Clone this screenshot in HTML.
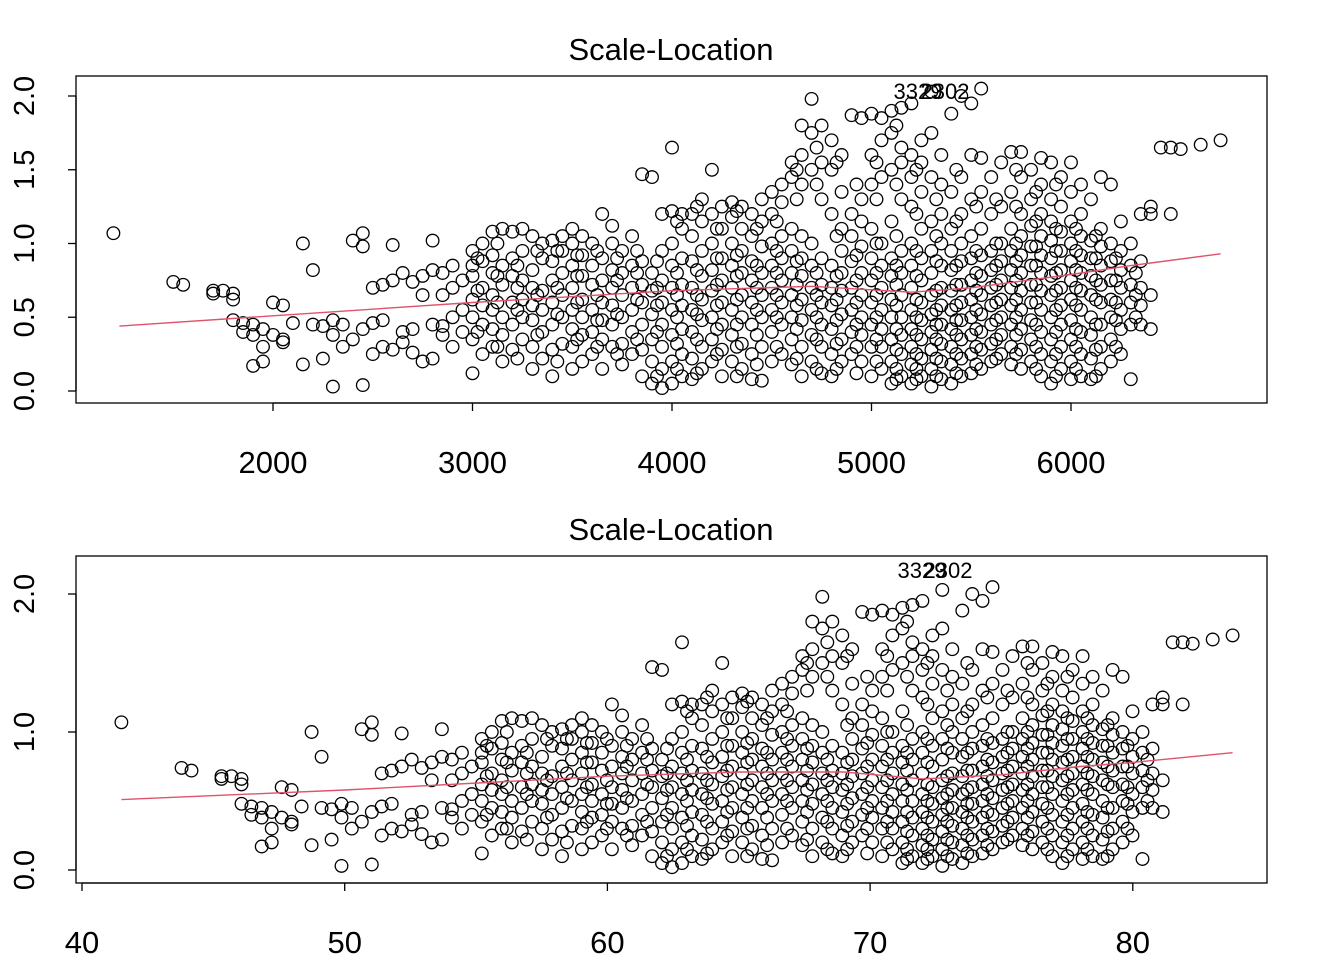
<!DOCTYPE html>
<html><head><meta charset="utf-8"><style>
html,body{margin:0;padding:0;background:#fff}
svg{display:block;font-family:"Liberation Sans",Arial,sans-serif}
</style></head><body>
<svg id="chart" width="1344" height="960" viewBox="0 0 1344 960"></svg>
<script>
// ---------- data ----------
const p1x=[1200,1500,1550,1700,1750,1800,1850,1900,1950,2000,2050,2100,2150,2200,2250,2300,2350,2400,2450,2500,2550,2600,2650,2700,2750,2800,2850,2900,2950,
3000,3050,3100,3150,3200,3250,3300,3350,3400,3450,3500,3550,3600,3650,3700,3750,3800,3850,3900,3950,4000,4050,4100,4150,4200,4250,4300,4350,4400,4450,4500,4550,4600,4650,4700,4750,4800,4850,4900,4950,5000,5050,5100,5150,5200,5250,5300,5350,5400,5450,5500,5550,5600,5650,5700,5750,5800,5850,5900,5950,6000,6050,6100,6150,6200,6250,6300,6350,6400,6450,6500,6550,6650,6750];
const p2x=[41.5,43.79,44.17,45.31,45.69,46.07,46.45,46.84,47.22,47.60,47.98,48.36,48.74,49.12,49.50,49.88,50.27,50.65,51.03,51.41,51.79,52.17,52.55,52.93,53.31,53.70,54.08,54.46,54.84,
55.22,55.60,55.98,56.36,56.74,57.13,57.51,57.89,58.27,58.65,59.03,59.41,59.79,60.17,60.56,60.94,61.32,61.70,62.08,62.46,62.84,63.22,63.60,63.99,64.37,64.75,65.13,65.51,65.89,66.27,66.65,67.03,67.42,67.80,68.18,68.56,68.94,69.32,69.70,70.08,70.46,70.85,71.23,71.61,71.99,72.37,72.75,73.13,73.51,73.89,74.28,74.66,75.04,75.42,75.80,76.18,76.56,76.94,77.32,77.71,78.09,78.47,78.85,79.23,79.61,79.99,80.37,80.75,81.14,81.52,81.90,82.28,83.04,83.80];
const yCols=[[1.07],[.74],[.72],[.66,.68],[.68],[.48,.66,.62],[.46,.4],[.17,.45,.38],[.3,.2,.42],[.6,.38],[.58,.33,.35],[.46],[1.0,.18],[.82,.45],[.22,.44],[.03,.38,.48],[.45,.3],[1.02,.35],[1.07,.98,.04,.42],[.7,.46,.25],[.72,.3,.48],[.99,.75,.28],[.8,.4,.33],[.74,.42,.26],[.78,.2,.65],[1.02,.82,.22,.45],[.8,.44,.65,.38],[.85,.5,.3,.7],[.55,.75,.4],
[.12,.35,.5,.62,.78,.85,.95],[.25,.45,.58,.7,.88,1.0],[.3,.42,.55,.65,.8,.92,1.08],[.2,.38,.5,.72,.85,1.1],[.28,.45,.6,.78,.9,1.08],[.35,.5,.62,.75,.95,1.1],[.15,.3,.48,.58,.7,.82,1.05],[.22,.4,.55,.68,.9,1.0],[.1,.28,.45,.6,.75,.88,1.02],[.32,.5,.65,.8,.95,1.05],[.15,.3,.42,.55,.7,.85,1.0,1.1],[.2,.38,.5,.62,.78,.92,1.05],[.25,.4,.55,.72,.85,1.0],[.15,.35,.48,.6,.75,.9,1.2],[.3,.45,.58,.7,.82,1.0,1.12],[.18,.32,.5,.65,.8,.95],[.25,.4,.55,.7,.85,1.05],[.1,.28,.45,.6,.72,.88,1.47],[.05,.2,.35,.52,.68,.8,1.45],[.02,.15,.3,.45,.6,.75,.95,1.2],[.05,.2,.38,.55,.7,.85,1.0,1.22,1.65],[.1,.25,.42,.58,.72,.9,1.1,1.2],[.08,.22,.4,.55,.7,.88,1.05,1.2],[.15,.3,.48,.62,.78,.95,1.15,1.3],[.2,.35,.5,.68,.82,1.0,1.2,1.5],[.1,.28,.45,.6,.75,.9,1.1,1.25],[.2,.38,.55,.7,.85,1.0,1.18,1.28],[.15,.32,.5,.65,.8,.95,1.1,1.25],[.08,.25,.45,.6,.75,.88,1.05,1.2],[.07,.3,.5,.65,.8,.98,1.15,1.3],[.2,.4,.55,.7,.85,1.0,1.2,1.35],[.25,.45,.6,.75,.9,1.05,1.28,1.4],[.18,.35,.5,.65,.8,.95,1.1,1.45,1.55],[.1,.3,.48,.62,.78,.9,1.05,1.4,1.6,1.8],[.2,.38,.55,.7,.85,1.0,1.5,1.75,1.98],[.12,.3,.45,.6,.72,.9,1.3,1.55,1.8],[.1,.25,.42,.58,.7,.85,1.2,1.5,1.7],[.2,.35,.52,.68,.8,.95,1.1,1.35,1.6],[.25,.4,.55,.7,.88,1.05,1.2,1.87],[.2,.38,.5,.65,.8,.98,1.15,1.3,1.85],[.1,.3,.45,.6,.75,.9,1.1,1.4,1.6,1.88],[.15,.3,.42,.55,.7,.85,1.0,1.45,1.7,1.85],[.05,.2,.35,.5,.62,.78,.9,1.15,1.5,1.75,1.9],[.1,.25,.38,.5,.65,.8,.95,1.3,1.55,1.65,1.92],[.05,.18,.3,.42,.55,.7,.85,1.0,1.25,1.45,1.6,1.95],[.1,.22,.35,.48,.6,.75,.9,1.1,1.35,1.55,1.7],[.03,.15,.28,.4,.52,.65,.8,.95,1.15,1.45,1.75,2.03],[.08,.2,.32,.45,.58,.7,.85,1.0,1.2,1.4,1.6],[.05,.18,.3,.42,.55,.68,.82,.95,1.1,1.35,1.88],[.1,.22,.35,.48,.6,.72,.88,1.0,1.2,1.45,2.0],[.12,.25,.38,.5,.62,.75,.9,1.05,1.3,1.6,1.95],[.15,.28,.4,.52,.65,.78,.92,1.1,1.35,1.58,2.05],[.2,.32,.45,.58,.7,.82,.95,1.2,1.45],[.25,.38,.5,.62,.75,.88,1.0,1.25,1.55],[.18,.3,.45,.58,.7,.82,.95,1.1,1.35,1.62],[.15,.28,.42,.55,.68,.8,.92,1.05,1.2,1.45,1.62],[.2,.35,.48,.6,.72,.85,.98,1.12,1.3,1.5],[.1,.25,.4,.55,.68,.8,.92,1.05,1.2,1.4,1.58],[.05,.2,.35,.5,.65,.78,.9,1.02,1.15,1.3,1.55],[.15,.3,.45,.58,.7,.82,.95,1.08,1.25,1.45],[.08,.2,.35,.48,.62,.75,.88,1.0,1.15,1.35,1.55],[.1,.25,.4,.55,.68,.8,.92,1.05,1.2,1.4],[.08,.22,.38,.5,.65,.78,.9,1.02,1.3],[.15,.3,.45,.6,.72,.85,.98,1.1,1.45],[.2,.35,.5,.62,.75,.88,1.0,1.4],[.25,.42,.55,.7,.82,.95,1.15],[.08,.45,.6,.72,.85,1.0],[.45,.58,.7,.88,1.2],[.42,.65,1.25,1.2],[1.65],[1.65,1.2],[1.64],[1.67],[1.7]];
const p1xB=[3025,3125,3225,3325,3425,3525,3625,3725,3825,3925,4025,4125,4225,4325,4425,4525,4625,4725,4825,4925,5025,5125,5225,5325,5425,5525,5625,5725,5825,5925,6025,6125,6225,6325];
const p2xB=[55.41,56.17,56.93,57.70,58.46,59.22,59.98,60.74,61.51,62.27,63.03,63.79,64.56,65.32,66.08,66.84,67.60,68.37,69.13,69.89,70.65,71.41,72.18,72.94,73.70,74.46,75.23,75.99,76.75,77.51,78.27,79.04,79.80,80.56];
const yColsB=[[.4,.68,.9],[.3,.6,.78,1.0],[.22,.55,.7,.85],[.38,.65,.95],[.2,.52,.7,.95],[.35,.6,.78,.92],[.3,.48,.65,.95],[.25,.52,.75,.9],[.35,.62,.8,.95],[.1,.4,.58,.7,.88],[.15,.32,.5,.65,.8,1.15],[.12,.35,.52,.65,.82,1.25],[.25,.42,.58,.72,.9,1.1],[.1,.3,.45,.62,.78,.92,1.22],[.18,.38,.55,.7,.85,1.1],[.3,.5,.65,.8,.95,1.15],[.22,.42,.58,.72,.88,1.3,1.5],[.15,.35,.5,.65,.8,1.4,1.65],[.15,.32,.48,.62,.78,1.05,1.55],[.12,.3,.45,.6,.75,.92,1.4],[.2,.35,.5,.65,.8,1.0,1.3,1.55],[.08,.15,.28,.42,.58,.72,.85,1.05,1.4,1.8],[.08,.15,.25,.38,.5,.62,.78,.95,1.2,1.5],[.1,.22,.35,.45,.55,.68,.88,1.05,1.3],[.12,.25,.38,.48,.58,.72,.85,1.15,1.5],[.18,.3,.42,.55,.68,.8,.95,1.25],[.22,.35,.48,.6,.72,.85,1.0,1.3],[.25,.38,.5,.62,.75,.88,1.0,1.25,1.5],[.15,.3,.45,.6,.72,.85,.98,1.15,1.35],[.1,.25,.4,.55,.68,.8,.95,1.1,1.4],[.15,.3,.42,.58,.7,.82,.95,1.1],[.1,.28,.45,.62,.75,.9,1.05],[.3,.48,.6,.75,.9],[.5,.65,.8]];
const loess1X=[1230,2000,3000,4000,4700,5200,5500,6000,6300,6750];
const loess1Y=[.44,.51,.6,.68,.71,.67,.7,.79,.85,.93];
const loess2X=[41.5,50,60,65,69,72,75,78,80,83.8];
const loess2Y=[.51,.58,.68,.71,.71,.66,.69,.75,.78,.85];
const xTicks1=[2000,3000,4000,5000,6000];
const xTicks2=[40,50,60,70,80];
const yTicks1=[0,0.5,1.0,1.5,2.0];
const yTicks2=[0,1.0,2.0];
const yTickLabels1=["0.0","0.5","1.0","1.5","2.0"];
const yTickLabels2=["0.0","1.0","2.0"];
const outlierLabels=["3329","2302"];

// ---------- drawing ----------
const NS="http://www.w3.org/2000/svg";
const svg=document.getElementById('chart');
function mk(tag,attrs,parent){const e=document.createElementNS(NS,tag);for(const k in attrs)e.setAttribute(k,attrs[k]);(parent||svg).appendChild(e);return e;}

function panel(cfg){
  const g=mk('g',{});
  
  
  const sx=v=>cfg.x0px+(v-cfg.x0v)*cfg.xs;
  const sy=v=>cfg.y0px-v*cfg.ys;
  const t=mk('text',{x:671,y:cfg.titleY,'text-anchor':'middle','font-size':'31',fill:'#000'},g);
  t.textContent='Scale-Location';
  
  
  const box=mk('rect',{x:76,y:cfg.boxTop,width:1191,height:327,fill:'none',stroke:'#000','stroke-width':1.3},g);
  
  
  const pg=mk('g',{fill:'none',stroke:'#000','stroke-width':1.3},g);
  
  
  cfg.sets.forEach(set=>{
    set.x.forEach((xv,i)=>{set.y[i].forEach(yv=>{
      const c=mk('circle',{cx:sx(xv).toFixed(1),cy:sy(yv).toFixed(1),r:6.3},pg);
      
      
    });});
  });
  const d=cfg.lx.map((v,i)=>(i?'L':'M')+sx(v).toFixed(1)+','+sy(cfg.ly[i]).toFixed(1)).join('');
  const ln=mk('path',{d:d,fill:'none',stroke:'#DF536B','stroke-width':1.4},g);
  
  
  outlierLabels.forEach((s,i)=>{
    const ol=mk('text',{x:cfg.olX[i],y:cfg.olY,'font-size':'22','text-anchor':'middle',fill:'#000'},g);
    ol.textContent=s;
    
    
  });
  const xa=mk('g',{},g);
  
  
  const xt=cfg.xticks;
  mk('line',{x1:sx(xt[0]),x2:sx(xt[xt.length-1]),y1:cfg.boxTop+327,y2:cfg.boxTop+327,stroke:'#000','stroke-width':1.3},xa);
  xt.forEach(v=>{
    mk('line',{x1:sx(v),x2:sx(v),y1:cfg.boxTop+327,y2:cfg.boxTop+335,stroke:'#000','stroke-width':1.3},xa);
    const lb=mk('text',{x:sx(v),y:cfg.boxTop+397,'text-anchor':'middle','font-size':'31',fill:'#000'},xa);
    lb.textContent=String(v);
    
    
  });
  const ya=mk('g',{},g);
  
  
  const yt=cfg.yticks;
  mk('line',{x1:76,x2:76,y1:sy(yt[0]),y2:sy(yt[yt.length-1]),stroke:'#000','stroke-width':1.3},ya);
  yt.forEach((v,i)=>{
    mk('line',{x1:68,x2:76,y1:sy(v),y2:sy(v),stroke:'#000','stroke-width':1.3},ya);
    const yy=sy(v);
    const lb=mk('text',{x:0,y:0,transform:`translate(34,${yy}) rotate(-90)`,'text-anchor':'middle','font-size':'29',fill:'#000'},ya);
    lb.textContent=cfg.ylabels[i];
    
    
  });
}

panel({name:'top-panel',titleY:60,boxTop:76,x0px:273,x0v:2000,xs:0.1995,y0px:391,ys:147.5,
  sets:[{x:p1x,y:yCols},{x:p1xB,y:yColsB}],lx:loess1X,ly:loess1Y,xticks:xTicks1,yticks:yTicks1,ylabels:yTickLabels1,olX:[918,945],olY:99});
panel({name:'bottom-panel',titleY:540,boxTop:556,x0px:82,x0v:40,xs:26.27,y0px:870,ys:138,
  sets:[{x:p2x,y:yCols},{x:p2xB,y:yColsB}],lx:loess2X,ly:loess2Y,xticks:xTicks2,yticks:yTicks2,ylabels:yTickLabels2,olX:[922,948],olY:578});
</script>
</body></html>
